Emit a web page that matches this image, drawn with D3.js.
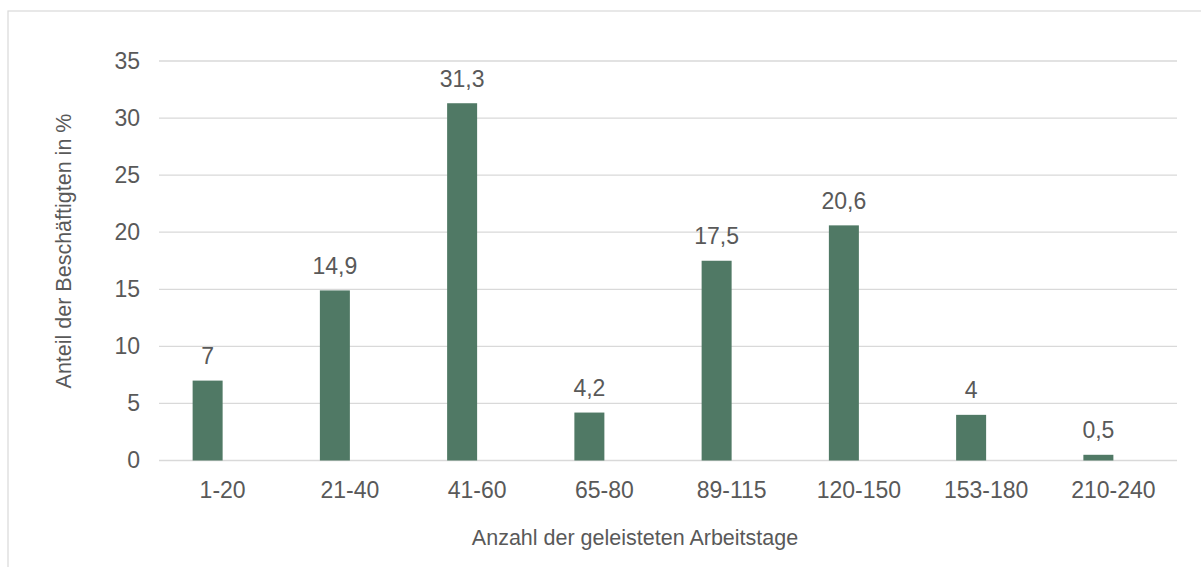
<!DOCTYPE html>
<html>
<head>
<meta charset="utf-8">
<script src="https://cdn.jsdelivr.net/npm/d3@7"></script>
<style>
  body { margin: 0; background: #fff; }
  text { font-family: "Liberation Sans", Arial, sans-serif; fill: #595959; }
</style>
</head>
<body>
<svg id="chart" width="1201" height="567"></svg>
<script>
var categories = ["1-20", "21-40", "41-60", "65-80", "89-115", "120-150", "153-180", "210-240"];
var values = [7, 14.9, 31.3, 4.2, 17.5, 20.6, 4, 0.5];
var y_ticks = [0, 5, 10, 15, 20, 25, 30, 35];
var x_title = "Anzahl der geleisteten Arbeitstage";
var y_title = "Anteil der Beschäftigten in %";

var svg = d3.select("#chart");
var margin = { left: 159, right: 1177, top: 61, bottom: 460.5 };
var bar_width = 30;
var number_format = function (v) { return String(v).replace(".", ","); };

// chart frame (runs off the right and bottom edges)
svg.append("rect")
  .attr("x", 8).attr("y", 11)
  .attr("width", 1300).attr("height", 700)
  .attr("fill", "none")
  .attr("stroke", "#d9d9d9")
  .attr("stroke-width", 1.2);

var x = d3.scaleBand().domain(categories).range([margin.left, margin.right]);
var y = d3.scaleLinear().domain([0, 35]).range([margin.bottom, margin.top]);

// gridlines
svg.append("g")
  .selectAll("line")
  .data(y_ticks)
  .join("line")
  .attr("x1", margin.left).attr("x2", margin.right)
  .attr("y1", function (d) { return y(d); })
  .attr("y2", function (d) { return y(d); })
  .attr("stroke", "#d9d9d9")
  .attr("stroke-width", 1.3);

// y axis labels
var y_axis = d3.axisLeft(y).tickValues(y_ticks).tickSize(0).tickPadding(0);
svg.append("g")
  .attr("transform", "translate(140,0)")
  .call(y_axis)
  .call(function (g) { g.select(".domain").remove(); })
  .selectAll("text")
  .attr("font-size", 23)
  .attr("font-family", null)
  .attr("fill", "#595959");

// x axis labels
var x_axis = d3.axisBottom(x).tickSize(0).tickPadding(0);
svg.append("g")
  .attr("transform", "translate(0," + margin.bottom + ")")
  .call(x_axis)
  .call(function (g) { g.select(".domain").remove(); })
  .selectAll("text")
  .attr("font-size", 23)
  .attr("font-family", null)
  .attr("fill", "#595959")
  .attr("dy", null)
  .attr("y", 37.5);

// bars: right edge at category centre (second series is empty)
svg.append("g")
  .selectAll("rect")
  .data(values)
  .join("rect")
  .attr("x", function (d, i) { return x(categories[i]) + x.bandwidth() / 2 - bar_width; })
  .attr("y", function (d) { return y(d); })
  .attr("width", bar_width)
  .attr("height", function (d) { return y(0) - y(d); })
  .attr("fill", "#507965");

// data labels
svg.append("g")
  .selectAll("text")
  .data(values)
  .join("text")
  .attr("x", function (d, i) { return x(categories[i]) + x.bandwidth() / 2 - bar_width / 2; })
  .attr("y", function (d) { return y(d) - 16.5; })
  .attr("text-anchor", "middle")
  .attr("font-size", 23)
  .text(number_format);

// axis titles
svg.append("text")
  .attr("x", 635).attr("y", 545)
  .attr("text-anchor", "middle")
  .attr("font-size", 21.5)
  .text(x_title);

svg.append("text")
  .attr("transform", "translate(70.5,251) rotate(-90)")
  .attr("text-anchor", "middle")
  .attr("font-size", 21.5)
  .text(y_title);
</script>
</body>
</html>
